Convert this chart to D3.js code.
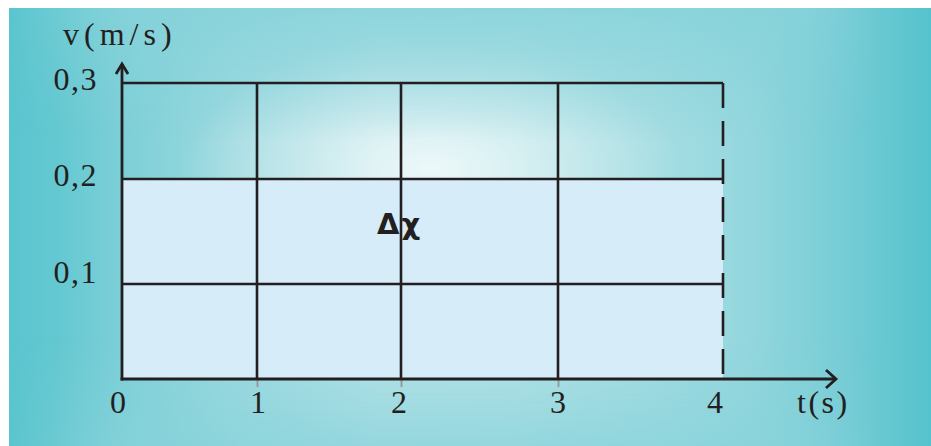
<!DOCTYPE html>
<html>
<head>
<meta charset="utf-8">
<script src="https://cdn.jsdelivr.net/npm/d3@7"></script>
<style>
  html, body { margin: 0; padding: 0; background: #ffffff; }
  svg { display: block; }
</style>
</head>
<body>
<svg id="chart" width="931" height="446"></svg>
<script>
// ---- data ----
const timeTicks = [0, 1, 2, 3, 4];
const timeTickLabels = ["0", "1", "2", "3", "4"];
const velocityTicks = [0.1, 0.2, 0.3];
const velocityTickLabels = ["0,1", "0,2", "0,3"];
const seriesTime = [0, 4];          // s
const seriesVelocity = [0.2, 0.2];  // m/s (constant)
const xAxisTitle = "t(s)";
const yAxisTitle = "v(m/s)";
const areaLabel = "Δχ";

const svg = d3.select("#chart");
const W = 931, H = 446;
const bx = 9, by = 8, bw = W - 9, bh = H - 8;

// ---- background gradients ----
const defs = svg.append("defs");
const hg = defs.append("linearGradient").attr("id", "bgH")
  .attr("x1", 0).attr("x2", 1).attr("y1", 0).attr("y2", 0);
[[0, "#5ac5cf"], [0.05, "#63c8d1"], [0.12, "#7ccfd7"], [0.25, "#9edae0"], [0.4, "#b8e3e8"],
 [0.55, "#b6e3e7"], [0.7, "#a5dde2"], [0.8, "#95d7de"], [0.9, "#78cdd6"], [1, "#55c3cd"]]
  .forEach(([o, c]) => hg.append("stop").attr("offset", o).attr("stop-color", c));

const hl = defs.append("radialGradient").attr("id", "hl")
  .attr("gradientUnits", "userSpaceOnUse")
  .attr("cx", 430).attr("cy", 168).attr("r", 250)
  .attr("gradientTransform", "translate(430,168) scale(1,0.5) translate(-430,-168)");
[[0, "#ffffff", 0.75], [0.5, "#ffffff", 0.35], [1, "#ffffff", 0]]
  .forEach(([o, c, a]) => hl.append("stop").attr("offset", o).attr("stop-color", c).attr("stop-opacity", a));

const vg = defs.append("linearGradient").attr("id", "bgV")
  .attr("x1", 0).attr("x2", 0).attr("y1", 0).attr("y2", 1);
[[0, 0.85], [0.3, 0], [0.75, 0], [1, 0.7]]
  .forEach(([o, a]) => vg.append("stop").attr("offset", o).attr("stop-color", "#86d2da").attr("stop-opacity", a));

const mg = defs.append("linearGradient").attr("id", "maskG")
  .attr("x1", 0).attr("x2", 1).attr("y1", 0).attr("y2", 0);
[[0, "#000"], [0.15, "#fff"], [0.8, "#fff"], [0.95, "#000"]]
  .forEach(([o, c]) => mg.append("stop").attr("offset", o).attr("stop-color", c));
defs.append("mask").attr("id", "vMask")
  .append("rect").attr("x", bx).attr("y", by).attr("width", bw).attr("height", bh).attr("fill", "url(#maskG)");

svg.append("rect").attr("x", bx).attr("y", by).attr("width", bw).attr("height", bh).attr("fill", "url(#bgH)");
svg.append("rect").attr("x", bx).attr("y", by).attr("width", bw).attr("height", bh).attr("fill", "url(#hl)");
svg.append("rect").attr("x", bx).attr("y", by).attr("width", bw).attr("height", bh)
  .attr("fill", "url(#bgV)").attr("mask", "url(#vMask)");

// ---- scales (hand-drawn grid, piecewise linear) ----
const x = d3.scaleLinear().domain(timeTicks).range([122, 257, 401, 558, 723]);
const y = d3.scaleLinear().domain([0, 0.1, 0.2, 0.3]).range([379, 284, 179, 83]);

const ink = "#231f20";
const serif = "'Liberation Serif', 'DejaVu Serif', serif";

// ---- area under v(t) ----
const pts = seriesTime.map((t, i) => ({ t, v: seriesVelocity[i] }));
svg.append("path")
  .datum(pts)
  .attr("fill", "#d6ecf8")
  .attr("d", d3.area().x(d => x(d.t)).y0(y(0)).y1(d => y(d.v)));

// ---- grid ----
const g = svg.append("g").attr("stroke", ink).attr("stroke-width", 2.6).attr("fill", "none");
velocityTicks.forEach(v => {
  g.append("line").attr("x1", x(0)).attr("x2", x(4)).attr("y1", y(v)).attr("y2", y(v));
});
timeTicks.slice(1, -1).forEach(t => {
  g.append("line").attr("x1", x(t)).attr("x2", x(t)).attr("y1", y(0)).attr("y2", y(0.3));
});
// dashed line at t = 4
g.append("line").attr("x1", x(4)).attr("x2", x(4)).attr("y1", y(0.3)).attr("y2", y(0))
  .attr("stroke-dasharray", "25,13");

// ---- x axis ticks + labels ----
const xAxis = d3.axisBottom(x).tickValues(timeTicks.slice(1, -1)).tickSize(8).tickFormat("");
const xa = svg.append("g").attr("transform", `translate(0,${y(0)})`).call(xAxis);
xa.select(".domain").remove();
xa.selectAll(".tick line").attr("stroke", "#9a9a9a").attr("stroke-width", 2);

const xLabelOffset = [-4, 1, -2, 0, -8];
svg.append("g").selectAll("text").data(timeTicks).join("text")
  .attr("x", (d, i) => x(d) + xLabelOffset[i])
  .attr("y", 413)
  .attr("text-anchor", "middle")
  .attr("font-family", serif).attr("font-size", 32).attr("fill", ink)
  .text((d, i) => timeTickLabels[i]);

// ---- y labels ----
const yLabelBase = [283, 186, 90];
svg.append("g").selectAll("text").data(velocityTicks).join("text")
  .attr("x", 98)
  .attr("y", (d, i) => yLabelBase[i])
  .attr("text-anchor", "end")
  .attr("font-family", serif).attr("font-size", 32).attr("fill", ink)
  .attr("letter-spacing", 1.5)
  .text((d, i) => velocityTickLabels[i]);

// ---- axes with arrows ----
const ax = svg.append("g").attr("stroke", ink).attr("stroke-width", 2.8).attr("fill", "none");
ax.append("line").attr("x1", x(0)).attr("x2", x(0)).attr("y1", y(0) + 1.4).attr("y2", 64);
ax.append("path").attr("d", `M${x(0) - 6},${74} L${x(0)},${64} L${x(0) + 6},${74}`);
ax.append("line").attr("x1", x(0) - 1.4).attr("x2", 836).attr("y1", y(0)).attr("y2", y(0));
ax.append("path").attr("d", `M${826},${y(0) - 9} L${836},${y(0)} L${826},${y(0) + 9}`);

// ---- titles ----
svg.append("text").attr("x", 63).attr("y", 45)
  .attr("font-family", serif).attr("font-size", 32).attr("fill", ink)
  .attr("letter-spacing", 5)
  .text(yAxisTitle);
svg.append("text").attr("x", 797).attr("y", 413)
  .attr("font-family", serif).attr("font-size", 32).attr("fill", ink)
  .attr("letter-spacing", 2.5)
  .text(xAxisTitle);

// ---- area label ----
svg.append("text").attr("x", 377).attr("y", 234)
  .attr("font-family", "'DejaVu Sans', sans-serif").attr("font-weight", "bold")
  .attr("font-size", 29).attr("letter-spacing", 2).attr("fill", ink)
  .text(areaLabel);
</script>
</body>
</html>
